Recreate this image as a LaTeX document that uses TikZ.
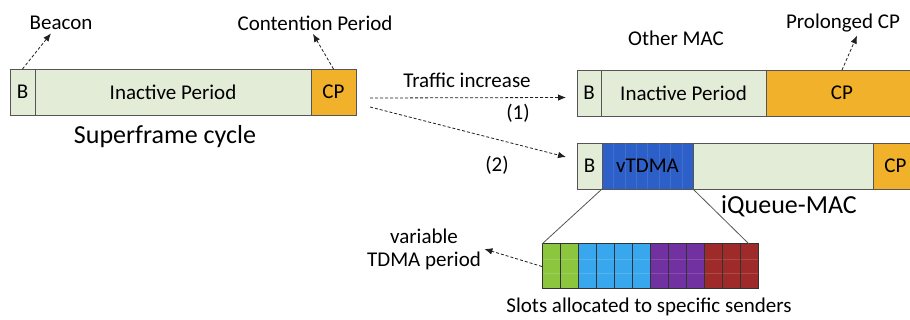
\documentclass[tikz,border=0pt]{standalone}
\usepackage{fontspec}
\setmainfont{Carlito}
\usetikzlibrary{arrows.meta, calc, positioning}

\definecolor{barline}{HTML}{555555}
\definecolor{slotline}{HTML}{333333}
\definecolor{inact}{HTML}{E3ECD6}
\definecolor{cporange}{HTML}{F1B12B}
\definecolor{vblue}{HTML}{2D5FC8}
\definecolor{sgreen}{HTML}{8CC63F}
\definecolor{sblue}{HTML}{38A7EE}
\definecolor{spurple}{HTML}{7131A1}
\definecolor{sred}{HTML}{9E2B2A}

\begin{document}
\begin{tikzpicture}[x=1pt, y=-1pt, >={Latex[length=8pt, width=6.5pt]},
  font=\fontsize{21}{23}\selectfont,
  big/.style={font=\fontsize{26}{28}\selectfont},
  cell/.style={draw=barline, line width=0.9pt, minimum height=46pt, inner sep=0pt, outer sep=0pt},
  slot/.style={draw=slotline, line width=1pt, anchor=north west, minimum width=18pt,
    minimum height=45pt, inner sep=0pt, outer sep=0pt,
    path picture={
      \draw[white, opacity=0.15, line width=0.4pt]
        ($(path picture bounding box.west)+(0,-7)$) -- ($(path picture bounding box.east)+(0,-7)$)
        ($(path picture bounding box.west)+(0,7)$) -- ($(path picture bounding box.east)+(0,7)$);}},
  pointer/.style={->, gray!25!black, line width=0.8pt, dash pattern=on 3pt off 2pt}]

  \clip (0,0) rectangle (910,320);

  \node[cell, fill=inact, minimum width=25pt, anchor=north west] (lb) at (10,69) {B};
  \node[cell, fill=inact, minimum width=276pt, right=0pt of lb] (lin) {Inactive Period};
  \node[cell, fill=cporange, minimum width=45pt, right=0pt of lin] (lcp) {CP};

  \node[cell, fill=inact, minimum width=24pt, anchor=north west] (rb) at (577,70) {B};
  \node[cell, fill=inact, minimum width=165pt, right=0pt of rb] (rin) {Inactive Period};
  \node[cell, fill=cporange, minimum width=152pt, right=0pt of rin] (rcp) {CP};

  \node[cell, fill=inact, minimum width=25pt, anchor=north west] (qb) at (577,143) {B};
  \node[cell, fill=vblue, minimum width=91pt, right=0pt of qb] (vt) {};
  \node[cell, fill=inact, minimum width=180pt, right=0pt of vt] (qin) {};
  \node[cell, fill=cporange, minimum width=45pt, right=0pt of qin] (qcp) {CP};

  \foreach \k in {1,...,7} {
    \draw[white, opacity=0.1, line width=0.4pt] ($(vt.north west)+(11.4*\k,0)$) -- ($(vt.south west)+(11.4*\k,0)$);
  }
  \node at (vt) {vTDMA};

  \foreach \i/\col in {0/sgreen, 1/sgreen, 2/sblue, 3/sblue, 4/sblue, 5/sblue,
                      6/spurple, 7/spurple, 8/spurple, 9/sred, 10/sred, 11/sred} {
    \node[slot, fill=\col] (s\i) at (542+18*\i, 244) {};
  }

  \draw[barline, line width=0.8pt] (s0.north west) -- (vt.south west);
  \draw[barline, line width=0.8pt] (s11.north) -- (vt.south east);

  \node (beacon) at (61,23) {Beacon};
  \node (contention) at (315,23) {Contention Period};
  \node[big] (super) at (165,137) {Superframe cycle};
  \node (traffic) at (467,80) {Traffic increase};
  \node (one) at (518,113) {(1)};
  \node (two) at (497,165) {(2)};
  \node (other) at (676,38) {Other MAC};
  \node (prolonged) at (843,23) {Prolonged CP};
  \node[big] (iqueue) at (789,206) {iQueue-MAC};
  \node[align=center] (tdma) at (424,249) {variable\\TDMA period};
  \node (senders) at (649,307) {Slots allocated to specific senders};

  \coordinate (from1) at (370,98);
  \coordinate (from2) at (370,107);

  \draw[pointer] (lb.north) -- ([xshift=-10pt]beacon.south);
  \draw[pointer] (lcp.north) -- ([xshift=-2pt]contention.south);
  \draw[pointer] (rcp.north) -- ([xshift=14pt]prolonged.south);
  \draw[pointer] (from1) -- ([xshift=-11pt, yshift=-4.5pt]rb.west);
  \draw[pointer] (from2) -- ([xshift=-11pt, yshift=9pt]qb.west);
  \draw[pointer] (s0.west) -- (tdma.east);

\end{tikzpicture}
\end{document}
